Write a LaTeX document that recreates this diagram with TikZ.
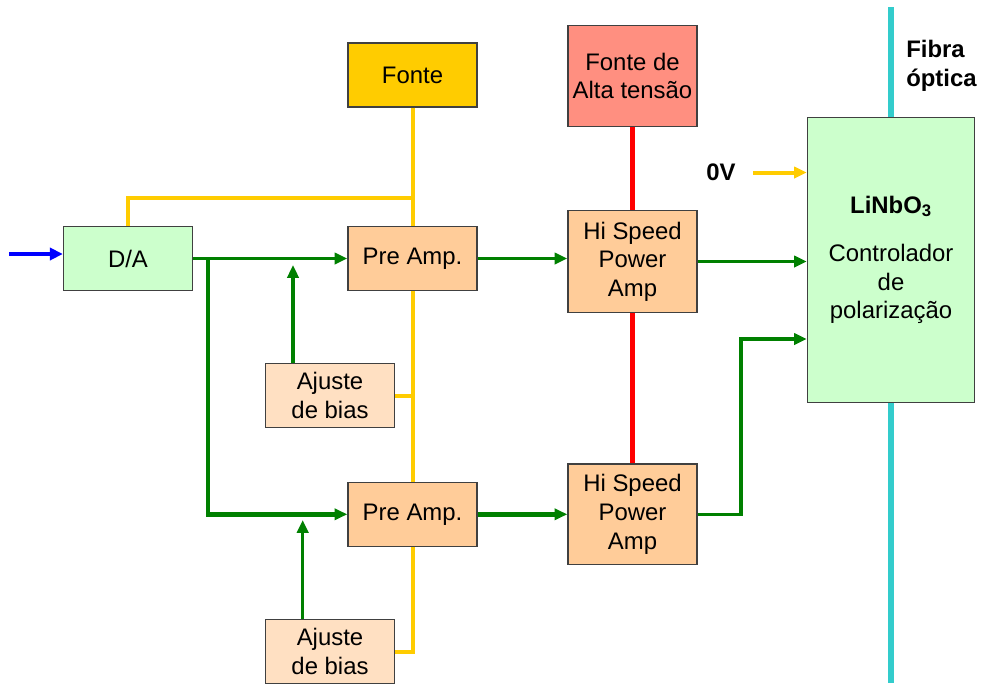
\documentclass[tikz,border=0pt]{standalone}
\usepackage{fontspec}
\setmainfont{Liberation Sans}
\usepackage{xcolor}
\usepackage{tikz}
\usetikzlibrary{arrows.meta}

\definecolor{sigGreen}{RGB}{0,128,0}
\definecolor{pwrYellow}{RGB}{255,204,0}
\definecolor{hvRed}{RGB}{255,0,0}
\definecolor{fibCyan}{RGB}{51,204,204}
\definecolor{boxGreen}{RGB}{204,255,204}
\definecolor{boxAmp}{RGB}{255,204,153}
\definecolor{boxBias}{RGB}{255,224,194}
\definecolor{boxHv}{RGB}{255,143,128}

\begin{document}
\begin{tikzpicture}[x=0.25mm, y=-0.25mm,
      box/.style={draw=black!75, line width=0.35mm, inner sep=0pt,
                  minimum width=32.25mm, minimum height=16mm, align=center,
                  font=\fontsize{17}{20.3}\selectfont},
      lbl/.style={inner sep=0pt, align=left, font=\fontsize{17}{20.3}\selectfont\bfseries},
      sig/.style={draw=sigGreen, line width=0.85mm, -{Triangle[length=3.2mm, width=2.8mm]}},
      sigwide/.style={sig, line width=1.2mm},
      pwr/.style={draw=pwrYellow, line width=1mm},
      hv/.style={draw=hvRed, line width=1.25mm},
      fib/.style={draw=fibCyan, line width=1.35mm}
    ]
      \clip (0,0) rectangle (984,683);

      % fibre behind the modulator
      \coordinate (fibtop) at (891,7);
      \coordinate (fibbot) at (891,683);
      \node[box, fill=boxGreen, minimum width=41.75mm, minimum height=71.25mm] (lin) at (891,260)
        {\textbf{LiNbO\textsubscript{3}}\\[5mm]Controlador\\de\\polariza\c{c}\~ao};
      \draw[fib] (fibtop) -- (lin.north);
      \draw[fib] (lin.south) -- (fibbot);
      \node[lbl, anchor=west] (fibra) at (906,66) {Fibra\\óptica};

      \node[box, fill=boxGreen] (da) at (128,258.5) {D/A};
      \node[box, fill=pwrYellow] (fonte) at (412.5,75) {Fonte};
      \node[box, fill=boxAmp] (pre1) at (412.5,258.5) {Pre Amp.};
      \node[box, fill=boxAmp] (pre2) at (412.5,514.3) {Pre Amp.};
      \node[box, fill=boxBias] (bias1) at (330,395.5) {Ajuste\\de bias};
      \node[box, fill=boxBias] (bias2) at (330,651.5) {Ajuste\\de bias};
      \node[box, fill=boxHv, minimum height=25.25mm] (alta) at (632.5,76) {Fonte de\\Alta tensão};
      \node[box, fill=boxAmp, minimum height=25.5mm] (hs1) at (632.5,261.5) {Hi Speed\\Power\\Amp};
      \node[box, fill=boxAmp, minimum height=25.2mm] (hs2) at (632.5,514.3) {Hi Speed\\Power\\Amp};
      \node[lbl] (zero) at (721,172) {0V};

      % input
      \coordinate (in) at (9,254);
      \draw[draw=blue, line width=1mm, -{Triangle[length=3.2mm, width=3mm]}] (in) -- (in -| da.west);

      % supply
      \coordinate (ybus) at (412.5,198);
      \draw[pwr] (fonte.south) -- (pre1.north);
      \draw[pwr] (da.north) |- (ybus);
      \draw[pwr] (pre1.south) -- (pre2.north);
      \draw[pwr] (bias1.east) -- (bias1.east -| pre1.south);
      \draw[pwr] (pre2.south) |- (bias2.east);
      \coordinate (zv) at (753,172.5);
      \draw[pwr, -{Triangle[length=3.2mm, width=2.8mm]}] (zv) -- (zv -| lin.west);

      % high voltage
      \draw[hv] (alta.south) -- (hs1.north);
      \draw[hv] (hs1.south) -- (hs2.north);

      % signal path
      \coordinate (split) at (208,258.5);
      \draw[sig] (da.east) -- (pre1.west);
      \draw[sigwide] (split) |- (pre2.west);
      \coordinate (b1) at (293,265);
      \draw[sig] (b1 |- bias1.north) -- (b1);
      \coordinate (b2) at (302.7,520);
      \draw[sig] (b2 |- bias2.north) -- (b2);
      \draw[sig] (pre1.east) -- (pre1.east -| hs1.west);
      \draw[sigwide] (pre2.east) -- (hs2.west);
      \draw[sig] (hs1.east) -- (hs1.east -| lin.west);
      \coordinate (jog) at (741,339);
      \draw[sig] (hs2.east) -| (jog) -- (jog -| lin.west);
    \end{tikzpicture}
\end{document}
